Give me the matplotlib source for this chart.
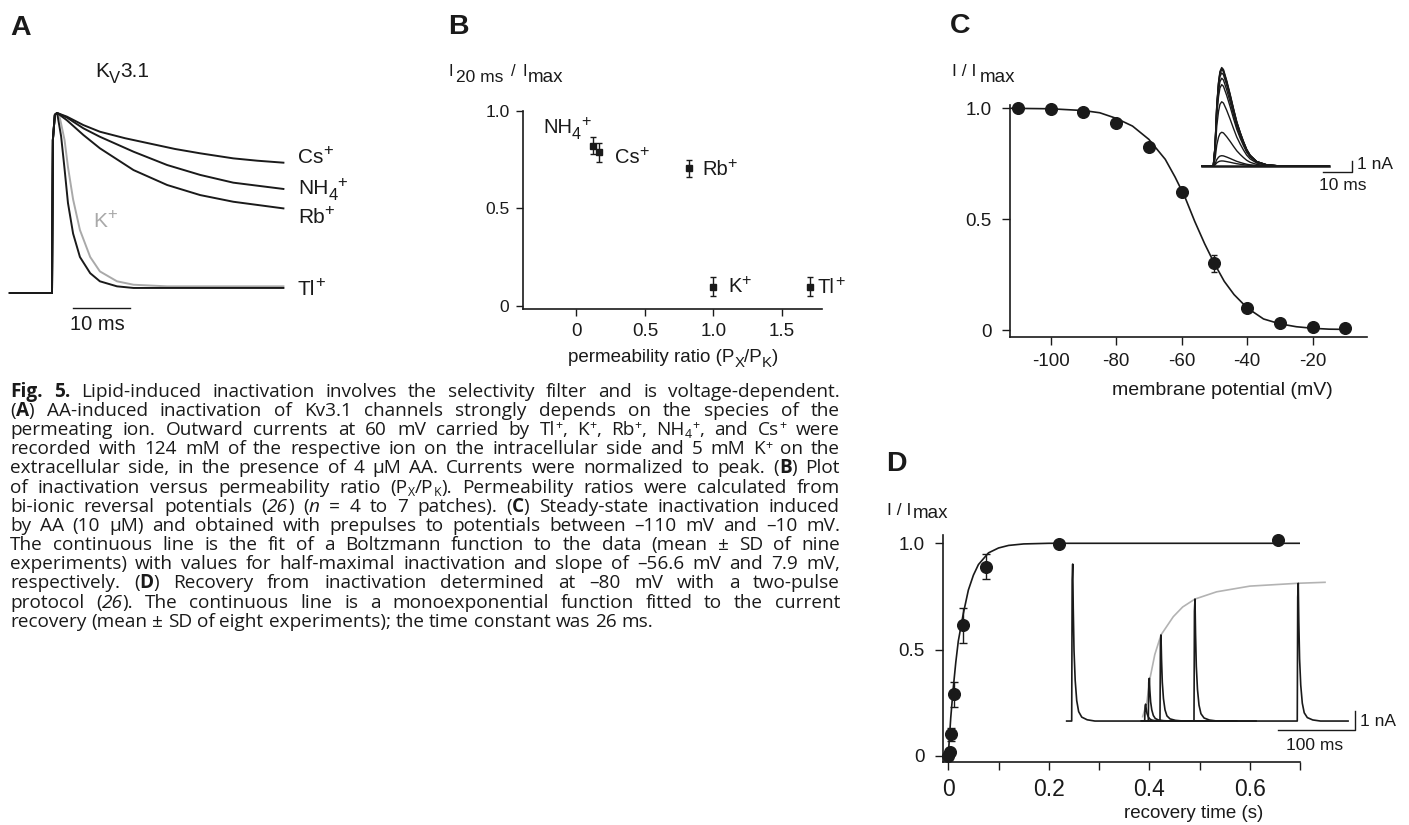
import re
import matplotlib
matplotlib.use("Agg")
import matplotlib.pyplot as plt

W, H = 1409, 825

# ---------------- panel A: normalized Kv3.1 currents (ms, step at t = 0)
a_step_t = [-7.4, 0.0, 0.15, 0.5]
a_step_y = [0.0, 0.0, 0.85, 0.99]
a_cs_t = [0.9, 2.6, 5.5, 8.4, 12.8, 17.2, 21.6, 26.0, 31.8, 36.0, 40.6]
a_cs_y = [1.0, 0.98, 0.933, 0.896, 0.86, 0.83, 0.80, 0.776, 0.748, 0.735, 0.724]
a_nh4_t = [0.9, 2.6, 5.5, 8.4, 14.3, 20.2, 26.0, 31.8, 40.6]
a_nh4_y = [1.0, 0.975, 0.915, 0.868, 0.785, 0.711, 0.656, 0.613, 0.578]
a_rb_t = [0.9, 2.6, 5.5, 8.4, 14.3, 20.2, 26.0, 31.8, 40.6]
a_rb_y = [1.0, 0.96, 0.878, 0.804, 0.683, 0.60, 0.544, 0.507, 0.47]
a_tl_t = [0.9, 1.6, 2.2, 2.8, 3.7, 4.9, 6.7, 8.4, 11.4, 14.3, 40.6]
a_tl_y = [1.0, 0.87, 0.69, 0.50, 0.33, 0.20, 0.11, 0.065, 0.037, 0.028, 0.028]
a_k_t = [0.9, 1.4, 2.2, 2.8, 3.7, 4.9, 6.7, 8.4, 11.4, 14.3, 20.2, 40.6]
a_k_y = [1.0, 0.97, 0.85, 0.70, 0.52, 0.35, 0.20, 0.12, 0.065, 0.046, 0.037, 0.037]

# ---------------- panel B: I20ms/Imax vs permeability ratio
b_ions = ["NH4", "Cs", "Rb", "K", "Tl"]
b_ratio = [0.122, 0.163, 0.82, 1.0, 1.708]
b_inact = [0.822, 0.788, 0.706, 0.099, 0.099]
b_err = [0.043, 0.05, 0.045, 0.05, 0.05]

# ---------------- panel C: steady-state inactivation
c_v = [-110, -100, -90, -80, -70, -60, -50, -40, -30, -20, -10]
c_i = [1.0, 0.998, 0.985, 0.932, 0.827, 0.624, 0.301, 0.098, 0.033, 0.015, 0.01]
c_err = [0.005, 0.005, 0.01, 0.012, 0.015, 0.02, 0.037, 0.012, 0.008, 0.005, 0.004]
c_fit_v = [-112, -100, -90, -85, -80, -75, -70, -65, -62, -59, -56, -53, -50,
           -47, -44, -40, -35, -30, -25, -20, -15, -10]
c_fit_i = [1.0, 0.998, 0.99, 0.98, 0.955, 0.92, 0.86, 0.77, 0.69, 0.60, 0.49, 0.39,
           0.30, 0.22, 0.16, 0.10, 0.05, 0.028, 0.015, 0.008, 0.004, 0.003]
# inset: current traces (ms, nA), shape of the largest trace and peak amplitudes
c_in_t = [0, 4.0, 4.6, 5.2, 5.8, 6.3, 6.9, 7.5, 8.6, 9.8, 11.0, 12.1, 13.3, 14.4,
          15.5, 16.7, 19.0, 22.4, 27.0, 44.0]
c_in_shape = [0, 0, 0.2, 0.62, 0.85, 0.96, 1.0, 0.98, 0.87, 0.73, 0.58, 0.45, 0.34,
              0.25, 0.17, 0.11, 0.045, 0.012, 0.0, 0.0]
c_in_amp = [9.2, 9.1, 9.0, 8.7, 8.2, 7.6, 6.0, 3.15, 0.96, 0.47]

# ---------------- panel D: recovery from inactivation
d_t = [0.0, 0.0033, 0.0053, 0.0113, 0.0286, 0.075, 0.2207, 0.656]
d_i = [0.0, 0.02, 0.102, 0.29, 0.614, 0.89, 0.997, 1.016]
d_err = [0.0, 0.01, 0.03, 0.059, 0.082, 0.059, 0.005, 0.005]
d_fit_t = [0, 0.005, 0.01, 0.015, 0.02, 0.03, 0.04, 0.05, 0.06, 0.08, 0.1, 0.12,
           0.15, 0.2, 0.7]
d_fit_i = [0, 0.18, 0.32, 0.44, 0.54, 0.67, 0.78, 0.85, 0.9, 0.955, 0.978, 0.99,
           0.997, 1.0, 1.0]
# inset: two-pulse traces (ms, nA)
d_spike_t = [0, 0.6, 1.3, 2.0, 3.0, 4.5, 6.5, 9, 13, 20, 30]
d_spike_shape = [0, 0.9, 1.0, 0.72, 0.45, 0.26, 0.13, 0.06, 0.025, 0.008, 0]
d_tr_start = [0, 97, 97, 97, 97, 97]
d_tr_end = [207, 210, 215, 220, 245, 364]
d_tr_peak = [7.8, 102.2, 106.9, 122.0, 166.0, 299.6]
d_tr_amp = [8.26, 0.89, 2.25, 4.53, 6.42, 7.25]
d_env_t = [98.3, 103.5, 107.8, 114, 122, 137.9, 150, 166, 194, 237.1, 299.6, 334.2]
d_env_i = [0.23, 0.93, 2.25, 3.5, 4.53, 5.49, 6.0, 6.42, 6.8, 7.1, 7.25, 7.3]

caption = [
    "**Fig. 5.** Lipid-induced inactivation involves the selectivity filter and is voltage-dependent.",
    "(**A**) AA-induced inactivation of Kv3.1 channels strongly depends on the species of the",
    "permeating ion. Outward currents at 60 mV carried by Tl^{+}, K^{+}, Rb^{+}, NH_{4}^{+}, and Cs^{+} were",
    "recorded with 124 mM of the respective ion on the intracellular side and 5 mM K^{+} on the",
    "extracellular side, in the presence of 4 \u03bcM AA. Currents were normalized to peak. (**B**) Plot",
    "of inactivation versus permeability ratio (P_{X}/P_{K}). Permeability ratios were calculated from",
    "bi-ionic reversal potentials (//26//) (//n// = 4 to 7 patches). (**C**) Steady-state inactivation induced",
    "by AA (10 \u03bcM) and obtained with prepulses to potentials between \u2013110 mV and \u201310 mV.",
    "The continuous line is the fit of a Boltzmann function to the data (mean \u00b1 SD of nine",
    "experiments) with values for half-maximal inactivation and slope of \u201356.6 mV and 7.9 mV,",
    "respectively. (**D**) Recovery from inactivation determined at \u201380 mV with a two-pulse",
    "protocol (//26//). The continuous line is a monoexponential function fitted to the current",
    "recovery (mean \u00b1 SD of eight experiments); the time constant was 26 ms.",
]

plt.rcParams["font.family"] = "Liberation Sans"
plt.rcParams["axes.unicode_minus"] = False
PANEL_FONT = ["Liberation Sans", "DejaVu Sans"]
CAP_FONT = ["Open Sans", "DejaVu Sans"]
INK = "#1a1a1a"

fig = plt.figure(figsize=(W / 100, H / 100), dpi=100)
renderer = fig.canvas.get_renderer()


def px_axes(left, top, right, bottom):
    return fig.add_axes([left / W, 1 - bottom / H, (right - left) / W, (bottom - top) / H])


def make_run(txt, kind, size, family, color, sc):
    fs, dy, weight, style = size, 0.0, "normal", "normal"
    if kind == "b":
        weight = "bold"
    elif kind == "i":
        style = "italic"
    elif kind == "sup":
        fs, dy = size * sc[0], size * sc[1] * 100 / 72
    elif kind == "sub":
        fs, dy = size * sc[2], -size * sc[3] * 100 / 72
    t = fig.text(0, 0, txt, fontsize=fs, family=family, fontweight=weight,
                 fontstyle=style, color=color, va="baseline", ha="left")
    return t, dy, t.get_window_extent(renderer).width


def place(items, x, y):
    for t, dy, w in items:
        t.set_position((x / W, 1 - (y - dy) / H))
        x += w
    return x


PANEL_SC = (0.8, 0.36, 0.8, 0.28)


def label(x, y, runs, size, color=INK, ha="left"):
    items = [make_run(txt, kind, size, PANEL_FONT, color, PANEL_SC) for txt, kind in runs]
    if ha == "center":
        x -= sum(i[2] for i in items) / 2
    place(items, x, y)


def style_axes(ax, length, pad_x, pad_y, xsize, ysize):
    for s in ("top", "right"):
        ax.spines[s].set_visible(False)
    for s in ("left", "bottom"):
        ax.spines[s].set_linewidth(1.2)
        ax.spines[s].set_color(INK)
    ax.tick_params(axis="both", which="both", direction="out", length=length,
                   width=1.0, color=INK, labelcolor=INK)
    ax.tick_params(axis="x", pad=pad_x, labelsize=xsize)
    ax.tick_params(axis="y", pad=pad_y, labelsize=ysize)
    ax.patch.set_alpha(0)


# ================= panel A
axA = px_axes(10, 113, 283.3, 293)
axA.set_xlim(-7.37, 40.58)
axA.set_ylim(0, 1)
axA.axis("off")
for tt, yy, col in [(a_k_t, a_k_y, "#a9a9a9"), (a_cs_t, a_cs_y, INK),
                    (a_nh4_t, a_nh4_y, INK), (a_rb_t, a_rb_y, INK),
                    (a_tl_t, a_tl_y, INK)]:
    axA.plot(a_step_t + tt, a_step_y + yy, color=col, lw=1.4, clip_on=False,
             solid_joinstyle="round")
axA.plot([3.68, 13.68], [-0.083, -0.083], color=INK, lw=1.0, clip_on=False)

label(10, 35, [("A", "b")], 20.5)
label(95, 77, [("K", "n"), ("V", "sub"), ("3.1", "n")], 15)
label(298, 163, [("Cs", "n"), ("+", "sup")], 15)
label(298, 194, [("NH", "n"), ("4", "sub"), ("+", "sup")], 15)
label(298, 223, [("Rb", "n"), ("+", "sup")], 15)
label(298, 295, [("Tl", "n"), ("+", "sup")], 15)
label(93, 227, [("K", "n"), ("+", "sup")], 15, color="#a9a9a9")
label(70, 330, [("10 ms", "n")], 14.5)

# ================= panel B
axB = px_axes(523.3, 111, 821.7, 309.3)
axB.errorbar(b_ratio, b_inact, yerr=b_err, fmt="s", color=INK, ms=5, capsize=2.4,
             elinewidth=1.0, capthick=1.0, clip_on=False)
axB.set_xlim(-0.387, 1.79)
axB.set_ylim(-0.017, 1.0)
axB.set_xticks([0, 0.5, 1.0, 1.5], ["0", "0.5", "1.0", "1.5"])
axB.set_yticks([0, 0.5, 1.0], ["0", "0.5", "1.0"])
style_axes(axB, 5, 5, 5, 13.5, 12.5)

label(448, 34, [("B", "b")], 20.5)
label(448, 76, [("I", "n")], 12)
label(456, 82, [("20 ms", "n")], 12.5)
label(511, 76, [("/", "n")], 12)
label(522, 76.5, [("I", "n")], 12)
label(528, 82, [("max", "n")], 13.5)
label(543, 133, [("NH", "n"), ("4", "sub"), ("+", "sup")], 14.5)
label(615, 163, [("Cs", "n"), ("+", "sup")], 14.5)
label(702, 175, [("Rb", "n"), ("+", "sup")], 14.5)
label(728, 292, [("K", "n"), ("+", "sup")], 14.5)
label(818, 293, [("Tl", "n"), ("+", "sup")], 14.5)
label(673, 362, [("permeability ratio (P", "n"), ("X", "sub"), ("/P", "n"),
                 ("K", "sub"), (")", "n")], 13.5, ha="center")

# ================= panel C
axC = px_axes(1010, 105, 1366.7, 336.7)
axC.plot(c_fit_v, c_fit_i, color=INK, lw=1.2, zorder=2)
axC.errorbar(c_v, c_i, yerr=c_err, fmt="o", color=INK, ms=8.4, capsize=2,
             elinewidth=1.0, capthick=1.0, zorder=3, clip_on=False)
axC.set_xlim(-112.4, -3.5)
axC.set_ylim(-0.03, 1.015)
axC.set_xticks([-100, -80, -60, -40, -20], ["-100", "-80", "-60", "-40", "-20"])
axC.set_yticks([0, 0.5, 1.0], ["0", "0.5", "1.0"])
style_axes(axC, 6, 6, 7, 13.5, 13.5)

label(950, 33, [("C", "b")], 20.5)
label(952, 76.5, [("I / I", "n")], 12.5)
label(980, 82.5, [("max", "n")], 13.5)
label(1222, 395, [("membrane potential (mV)", "n")], 14, ha="center")

axCi = px_axes(1195, 55, 1400, 200)
axCi.set_xlim(-2.31, 68.4)
axCi.set_ylim(-3.18, 10.37)
axCi.axis("off")
for amp in c_in_amp:
    axCi.plot(c_in_t, [amp * v for v in c_in_shape], color=INK, lw=1.0)
axCi.plot([0, 44], [0, 0], color=INK, lw=1.8)
axCi.plot([41.9, 51.9, 51.9], [-0.53, -0.53, 0.47], color=INK, lw=1.0)
label(1357, 169, [("1 nA", "n")], 12.5)
label(1343, 190, [("10 ms", "n")], 12.5, ha="center")

# ================= panel D
axD = px_axes(942.7, 535, 1300.4, 761.7)
axD.plot(d_fit_t, d_fit_i, color=INK, lw=1.2, zorder=2)
axD.errorbar(d_t, d_i, yerr=d_err, fmt="o", color=INK, ms=8.4, capsize=3,
             elinewidth=1.0, capthick=1.0, zorder=3, clip_on=False)
axD.set_xlim(-0.011, 0.7)
axD.set_ylim(-0.027, 1.039)
axD.set_xticks([0, 0.2, 0.4, 0.6], ["0", "0.2", "0.4", "0.6"])
axD.set_xticks([0.1, 0.3, 0.5, 0.7], minor=True)
axD.set_yticks([0, 0.5, 1.0], ["0", "0.5", "1.0"])
style_axes(axD, 6, 6, 7, 16.5, 13.5)

label(886, 471, [("D", "b")], 20.5)
label(887, 515, [("I / I", "n")], 12.5)
label(913, 518.5, [("max", "n")], 13.5)
label(1194, 818, [("recovery time (s)", "n")], 13.5, ha="center")

axDi = px_axes(1055, 550, 1400, 760)
axDi.set_xlim(-15.1, 431.2)
axDi.set_ylim(-2.05, 9.0)
axDi.axis("off")
axDi.plot(d_env_t, d_env_i, color="#b3b3b3", lw=1.2)
for s, e, pk, amp in zip(d_tr_start, d_tr_end, d_tr_peak, d_tr_amp):
    xs = [s] + [pk - 1.3 + v for v in d_spike_t] + [e]
    ys = [0] + [amp * v for v in d_spike_shape] + [0]
    axDi.plot(xs, ys, color=INK, lw=1.2)
axDi.plot([273.3, 373.3, 373.3], [-0.47, -0.47, 0.53], color=INK, lw=1.0)
label(1360, 726, [("1 nA", "n")], 12.5)
label(1315, 750, [("100 ms", "n")], 12.5, ha="center")

# ================= caption (justified text)
TOKEN = re.compile(r"(\*\*.+?\*\*|//.+?//|\^\{.+?\}|_\{.+?\})")
CAP_SC = (0.65, 0.3, 0.65, 0.18)


def parse(line):
    runs = []
    for piece in TOKEN.split(line):
        if not piece:
            continue
        if piece.startswith("**"):
            runs.append((piece[2:-2], "b"))
        elif piece.startswith("//"):
            runs.append((piece[2:-2], "i"))
        elif piece.startswith("^{"):
            runs.append((piece[2:-1], "sup"))
        elif piece.startswith("_{"):
            runs.append((piece[2:-1], "sub"))
        else:
            runs.append((piece, "n"))
    words = [[]]
    for txt, kind in runs:
        for k, part in enumerate(txt.split(" ")):
            if k > 0:
                words.append([])
            if part:
                words[-1].append((part, kind))
    return [w for w in words if w]


def build(size):
    out = []
    for line in caption:
        out.append([[make_run(t, k, size, CAP_FONT, INK, CAP_SC) for t, k in w]
                    for w in parse(line)])
    a = fig.text(0, 0, "n n", fontsize=size, family=CAP_FONT)
    b = fig.text(0, 0, "nn", fontsize=size, family=CAP_FONT)
    sp = a.get_window_extent(renderer).width - b.get_window_extent(renderer).width
    a.remove()
    b.remove()
    return out, sp


CAP_L, CAP_R, CAP_Y0, CAP_DY = 10, 840, 396.7, 19.17
cap_size = 12.5
lines, space = build(cap_size)
natural = max(sum(i[2] for w in ln for i in w) + space * (len(ln) - 1) for ln in lines)
# fit the widest line to the column width, leaving some room for justification
for ln in lines:
    for w in ln:
        for i in w:
            i[0].remove()
cap_size *= (CAP_R - CAP_L) * 0.95 / natural
lines, space = build(cap_size)

for n, ln in enumerate(lines):
    y = CAP_Y0 + n * CAP_DY
    widths = [sum(i[2] for i in w) for w in ln]
    if n < len(lines) - 1:
        gap = (CAP_R - CAP_L - sum(widths)) / (len(ln) - 1)
    else:
        gap = space
    x = CAP_L
    for w, wd in zip(ln, widths):
        place(w, x, y)
        x += wd + gap

fig.savefig("out.png", dpi=100)
